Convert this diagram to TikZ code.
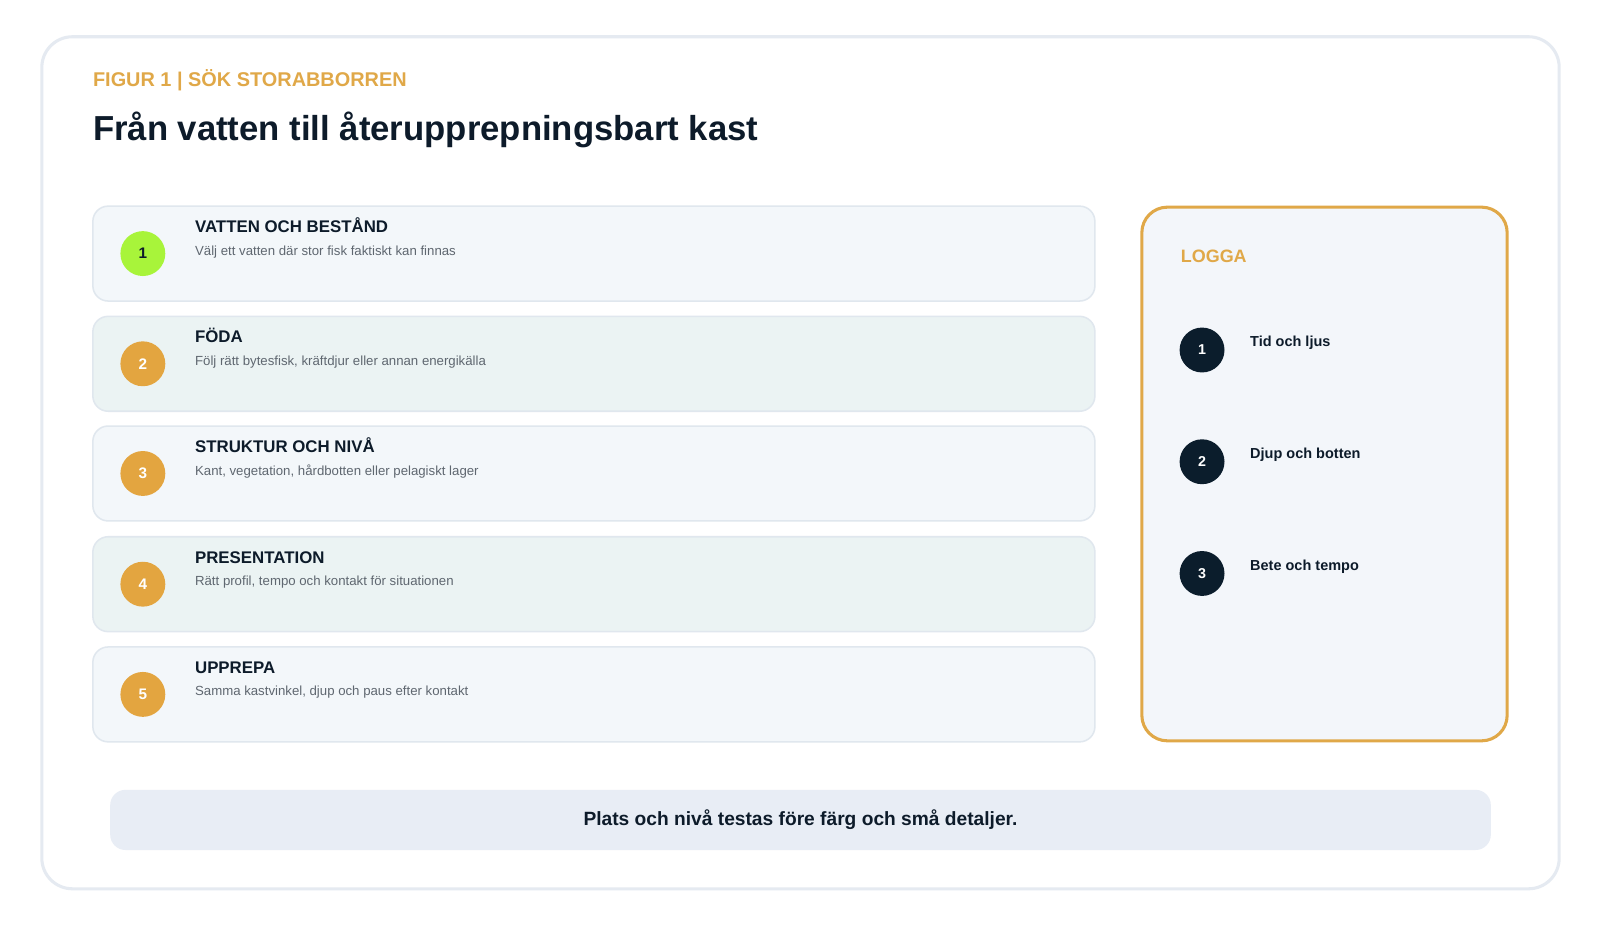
\documentclass[tikz,border=0pt]{standalone}
\usepackage{fontspec}
\setmainfont{Liberation Sans}
\usepackage{tikz}
\usetikzlibrary{positioning}

\definecolor{frameline}{HTML}{E5EAF1}
\definecolor{tagorange}{HTML}{E0A848}
\definecolor{ink}{HTML}{0D1B2A}
\definecolor{cardA}{HTML}{F3F7FA}
\definecolor{cardB}{HTML}{EBF3F3}
\definecolor{cardline}{HTML}{E0E7EE}
\definecolor{lime}{HTML}{A8F43A}
\definecolor{badge}{HTML}{E3A540}
\definecolor{navy}{HTML}{0B1D2C}
\definecolor{subgray}{HTML}{5F6770}
\definecolor{panelfill}{HTML}{F3F6FA}
\definecolor{banner}{HTML}{E8EDF5}

\tikzset{
  card/.style={draw=cardline, line width=1.5pt, rounded corners=15pt,
    minimum width=982pt, minimum height=93pt, inner sep=0pt},
  badgedot/.style={circle, fill=badge, minimum size=44pt, inner sep=0pt,
    text=white, font=\fontsize{15}{18}\selectfont\bfseries},
  logdot/.style={circle, fill=navy, minimum size=44pt, inner sep=0pt,
    text=white, font=\fontsize{14}{17}\selectfont\bfseries},
  cardtitle/.style={anchor=base west, inner sep=0pt, text=ink,
    font=\fontsize{16.5}{20}\selectfont\bfseries},
  cardtext/.style={anchor=base west, inner sep=0pt, text=subgray,
    font=\fontsize{12.95}{16}\selectfont},
  loglabel/.style={anchor=base west, inner sep=0pt, text=ink,
    font=\fontsize{14.2}{17}\selectfont\bfseries}
}

\begin{document}
\begin{tikzpicture}[x=1pt, y=-1pt]
  \useasboundingbox[fill=white] (0,0) rectangle (1568,911.4);

  % outer frame
  \node[draw=frameline, line width=3pt, rounded corners=30pt, fill=white,
    minimum width=1487pt, minimum height=835pt] (FRAME) at (784.5,453.5) {};

  \node[anchor=base west, inner sep=0pt, text=tagorange,
    font=\fontsize{19.5}{24}\selectfont\bfseries] (TAG) at (91,85) {FIGUR 1 | SÖK STORABBORREN};
  \node[anchor=base west, inner sep=0pt, text=ink,
    font=\fontsize{34}{41}\selectfont\bfseries] (TITLE) at (91,138) {Från vatten till återupprepningsbart kast};

  % steps
  \node[card, fill=cardA] (C1) at (582,248.5) {};
  \node[card, fill=cardB] (C2) at (582,356.5) {};
  \node[card, fill=cardA] (C3) at (582,464) {};
  \node[card, fill=cardB] (C4) at (582,572.5) {};
  \node[card, fill=cardA] (C5) at (582,680.5) {};

  \node[badgedot, fill=lime, text=ink] (B1) at (140,248.5) {1};
  \node[badgedot] (B2) at (140,356.5) {2};
  \node[badgedot] (B3) at (140,464) {3};
  \node[badgedot] (B4) at (140,572.5) {4};
  \node[badgedot] (B5) at (140,680.5) {5};

  \node[cardtitle] (T1) at (191,228) {VATTEN OCH BESTÅND};
  \node[cardtext] (S1) at (191,250) {Välj ett vatten där stor fisk faktiskt kan finnas};
  \node[cardtitle] (T2) at (191,336) {FÖDA};
  \node[cardtext] (S2) at (191,358) {Följ rätt bytesfisk, kräftdjur eller annan energikälla};
  \node[cardtitle] (T3) at (191,443.5) {STRUKTUR OCH NIVÅ};
  \node[cardtext] (S3) at (191,465.5) {Kant, vegetation, hårdbotten eller pelagiskt lager};
  \node[cardtitle] (T4) at (191,552) {PRESENTATION};
  \node[cardtext] (S4) at (191,574) {Rätt profil, tempo och kontakt för situationen};
  \node[cardtitle] (T5) at (191,660) {UPPREPA};
  \node[cardtext] (S5) at (191,682) {Samma kastvinkel, djup och paus efter kontakt};

  % log panel
  \node[draw=tagorange, line width=3pt, rounded corners=25pt, fill=panelfill,
    minimum width=358pt, minimum height=523pt] (LOG) at (1298,464.5) {};
  \node[anchor=base west, inner sep=0pt, text=tagorange,
    font=\fontsize{17.6}{21}\selectfont\bfseries] (LOGHEAD) at (1157,257) {LOGGA};

  \node[logdot] (L1) at (1178,343) {1};
  \node[logdot] (L2) at (1178,452.5) {2};
  \node[logdot] (L3) at (1178,562) {3};
  \node[loglabel] (LT1) at (1225,340) {Tid och ljus};
  \node[loglabel] (LT2) at (1225,449.5) {Djup och botten};
  \node[loglabel] (LT3) at (1225,559) {Bete och tempo};

  % takeaway
  \node[fill=banner, rounded corners=15pt, minimum width=1353pt, minimum height=59pt,
    text=ink, font=\fontsize{18.8}{23}\selectfont\bfseries] (NOTE) at (784.5,803.5)
    {Plats och nivå testas före färg och små detaljer.};
\end{tikzpicture}
\end{document}
